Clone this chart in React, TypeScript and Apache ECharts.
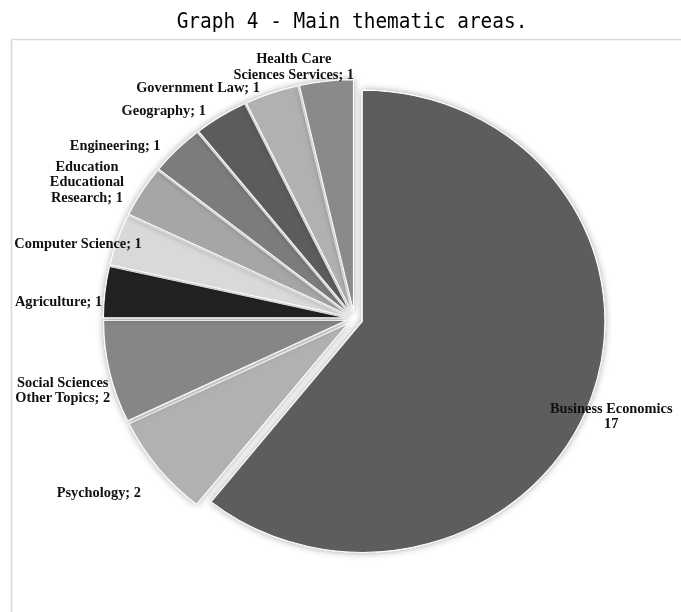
import React, { useEffect, useRef } from "react";
import * as echarts from "echarts";

const TITLE = "Graph 4 - Main thematic areas.";

const categories = [
  "Business Economics",
  "Psychology",
  "Social Sciences\nOther Topics",
  "Agriculture",
  "Computer Science",
  "Education\nEducational\nResearch",
  "Engineering",
  "Geography",
  "Government Law",
  "Health Care\nSciences Services",
];

const values = [17, 2, 2, 1, 1, 1, 1, 1, 1, 1];

const colors = [
  "#5d5d5d",
  "#b1b1b1",
  "#868686",
  "#222222",
  "#d9d9d9",
  "#a6a6a6",
  "#7b7b7b",
  "#5c5c5c",
  "#b1b1b1",
  "#8a8a8a",
];

// The reference pie is slightly wider than tall: the chart is stretched horizontally.
const SX = 1.05;
const W = 681;
const H = 612;

export default function App() {
  const ref = useRef<HTMLDivElement>(null);

  useEffect(() => {
    if (!ref.current) return;
    const chart = echarts.init(ref.current, null, { renderer: "svg" });

    const toX = (px: number) => px / SX;

    const CX = 337.5;
    const CY = 318.7;
    const R = 231;

    const total = values.reduce((a, b) => a + b, 0);
    const mids: number[] = [];
    let acc = 0;
    values.forEach((v) => {
      const a0 = (acc / total) * 360;
      acc += v;
      const a1 = (acc / total) * 360;
      mids.push((a0 + a1) / 2);
    });

    // label placement relative to each slice's mid-angle: [angle shift (deg), distance from centre]
    const LX = 353;
    const LY = 318;
    const labelPlace: [number, number][] = [
      [1.4, 276],
      [4.2, 308],
      [-1, 299],
      [-3.1, 295],
      [-4, 285],
      [-5, 299],
      [-9, 294],
      [-10.2, 281],
      [-14.6, 278],
      [-6.8, 259],
    ];

    const labelTexts = categories.map((name, i) =>
      i === 0 ? `${name}\n${values[i]}` : `${name}; ${values[i]}`
    );

    const labelGraphics = labelTexts.map((text, i) => {
      const [shift, dist] = labelPlace[i];
      const a = ((mids[i] + shift) * Math.PI) / 180;
      return {
        type: "text",
        x: toX(LX + dist * Math.sin(a)),
        y: LY - dist * Math.cos(a),
        silent: true,
        z: 10,
        style: {
          text,
          fill: "#111111",
          font: "bold 13.7px 'Liberation Serif', serif",
          lineHeight: 15.5,
          textAlign: "center",
          textVerticalAlign: "middle",
        },
      };
    });

    chart.setOption({
      animation: false,
      backgroundColor: "#ffffff",
      graphic: [
        {
          type: "line",
          shape: { x1: toX(11.5), y1: 39.5, x2: W, y2: 39.5 },
          style: { stroke: "#d9d9d9", lineWidth: 1.5 },
          silent: true,
        },
        {
          type: "line",
          shape: { x1: toX(11.5), y1: 39.5, x2: toX(11.5), y2: H },
          style: { stroke: "#d9d9d9", lineWidth: 1.5 },
          silent: true,
        },
        {
          type: "text",
          x: toX(352),
          y: 21,
          scaleY: 1.18,
          style: {
            text: TITLE,
            fill: "#000000",
            font: "18.5px 'DejaVu Sans Mono', monospace",
            textAlign: "center",
            textVerticalAlign: "middle",
          },
          silent: true,
        },
        ...labelGraphics,
      ],
      series: [
        {
          type: "pie",
          center: [CX, CY],
          radius: [0, R],
          startAngle: 90,
          clockwise: true,
          selectedMode: "multiple",
          selectedOffset: 8,
          avoidLabelOverlap: false,
          emphasis: { disabled: true },
          itemStyle: {
            borderColor: "#ffffff",
            borderWidth: 1,
            shadowBlur: 7,
            shadowColor: "rgba(0,0,0,0.35)",
          },
          label: { show: false },
          labelLine: { show: false },
          data: categories.map((name, i) => ({
            name,
            value: values[i],
            selected: true,
            itemStyle: { color: colors[i] },
          })),
        },
      ],
    });

    return () => chart.dispose();
  }, []);

  return (
    <div
      ref={ref}
      style={{
        position: "absolute",
        left: 0,
        top: 0,
        width: W / SX,
        height: H,
        transform: `scaleX(${SX})`,
        transformOrigin: "0 0",
      }}
    />
  );
}
